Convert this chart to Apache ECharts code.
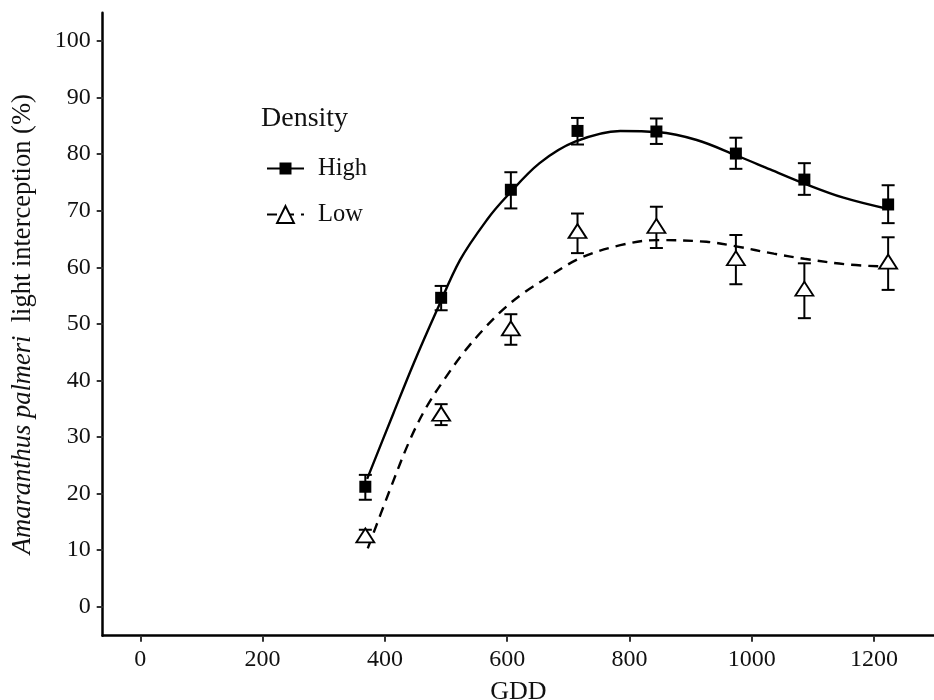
<!DOCTYPE html>
<html>
<head>
    <meta charset="utf-8">
    <title>Light interception</title>
    <script src="https://cdn.jsdelivr.net/npm/echarts@6/dist/echarts.min.js"></script>
    <style>
        html, body { margin: 0; padding: 0; background: #fff; }
        #main { width: 934px; height: 700px; }
    </style>
</head>
<body>
    <div id="main"></div>
    <script type="text/javascript">
    // observed means and error bar limits
    var gdd = [368, 492, 606, 715, 844, 974, 1086, 1223];
    var highMean = [21.2, 54.6, 73.7, 84.1, 84.0, 80.1, 75.5, 71.1];
    var highLow  = [18.9, 52.4, 70.4, 81.7, 81.8, 77.4, 72.8, 67.8];
    var highHigh = [23.3, 56.7, 76.8, 86.4, 86.3, 82.9, 78.4, 74.5];
    var lowMean = [12.6, 34.1, 49.2, 66.4, 67.3, 61.6, 56.2, 61.0];
    var lowLow  = [11.5, 32.1, 46.3, 62.5, 63.4, 57.0, 51.0, 56.0];
    var lowHigh = [13.6, 35.8, 51.7, 69.5, 70.7, 65.7, 60.7, 65.3];

    // fitted curves
    var highFitX = [371, 414, 447, 485, 523, 567, 599, 653, 711, 785, 845, 910, 974, 1030, 1086, 1150, 1223];
    var highFitY = [22.6, 34.2, 43.0, 52.4, 61.3, 68.4, 72.5, 78.4, 82.2, 84.1, 83.9, 82.5, 79.8, 77.3, 74.8, 72.3, 70.3];
    var lowFitX = [372, 408, 441, 468, 496, 528, 561, 594, 626, 660, 719, 785, 845, 926, 974, 1036, 1086, 1156, 1223];
    var lowFitY = [10.3, 20.6, 29.5, 35.3, 40.0, 44.8, 49.0, 52.6, 55.4, 57.8, 61.6, 63.9, 64.8, 64.5, 63.7, 62.4, 61.5, 60.5, 60.1];

    var xTicks = [0, 200, 400, 600, 800, 1000, 1200];
    var yTicks = [0, 10, 20, 30, 40, 50, 60, 70, 80, 90, 100];

    var font = 'Liberation Serif';

    function zip(a, b) {
        var out = [];
        for (var i = 0; i < a.length; i++) out.push([a[i], b[i]]);
        return out;
    }
    function zip3(a, b, c) {
        var out = [];
        for (var i = 0; i < a.length; i++) out.push([a[i], b[i], c[i]]);
        return out;
    }

    function renderErrorBar(params, api) {
        var x = api.value(0);
        var lo = api.coord([x, api.value(1)]);
        var hi = api.coord([x, api.value(2)]);
        var half = 6.5;
        var style = { stroke: '#000', lineWidth: 2 };
        return {
            type: 'group',
            children: [
                { type: 'line', shape: { x1: lo[0], y1: lo[1], x2: hi[0], y2: hi[1] }, style: style },
                { type: 'line', shape: { x1: lo[0] - half, y1: lo[1], x2: lo[0] + half, y2: lo[1] }, style: style },
                { type: 'line', shape: { x1: hi[0] - half, y1: hi[1], x2: hi[0] + half, y2: hi[1] }, style: style }
            ]
        };
    }

    var myChart = echarts.init(document.getElementById('main'));

    var option = {
        backgroundColor: '#fff',
        animation: false,
        title: {
            text: 'Density',
            left: 256,
            top: 100,
            textStyle: { fontFamily: font, fontSize: 28, fontWeight: 'normal', color: '#111' }
        },
        legend: [{
            data: ['High'],
            left: 261,
            top: 151,
            itemWidth: 37,
            itemHeight: 15,
            textStyle: { fontFamily: font, fontSize: 24.5, color: '#111', padding: [0, 0, 0, 9] }
        }, {
            data: ['Low'],
            left: 261,
            top: 197,
            itemWidth: 37,
            itemHeight: 21,
            textStyle: { fontFamily: font, fontSize: 24.5, color: '#111', padding: [0, 0, 0, 9] }
        }],
        grid: {
            left: 102.7,
            right: 0,
            top: 12.7,
            bottom: 64.3,
            containLabel: false,
            outerBoundsMode: 'none'
        },
        xAxis: {
            type: 'value',
            min: -61.5,
            max: 1298,
            name: 'GDD',
            nameLocation: 'middle',
            nameGap: 43,
            nameTextStyle: { fontFamily: font, fontSize: 26, color: '#111' },
            splitLine: { show: false },
            axisLine: { show: true, onZero: false, lineStyle: { color: '#000', width: 2.5 } },
            axisTick: { show: true, length: 6, customValues: xTicks, lineStyle: { color: '#333', width: 2 } },
            axisLabel: {
                customValues: xTicks, margin: 12.5, fontFamily: font, fontSize: 24, color: '#111',
                formatter: function (v) { return String(v); }
            }
        },
        yAxis: {
            type: 'value',
            min: -5.13,
            max: 105,
            name: '{i|Amaranthus palmeri}  light interception (%)',
            nameLocation: 'middle',
            nameGap: 66,
            nameTextStyle: {
                fontFamily: font, fontSize: 26.5, color: '#111',
                rich: { i: { fontFamily: font, fontSize: 26.5, fontStyle: 'italic', color: '#111' } }
            },
            splitLine: { show: false },
            axisLine: { show: true, onZero: false, lineStyle: { color: '#000', width: 2.5 } },
            axisTick: { show: true, length: 6, customValues: yTicks, lineStyle: { color: '#333', width: 2 } },
            axisLabel: {
                customValues: yTicks, margin: 12, fontFamily: font, fontSize: 24, color: '#111',
                formatter: function (v) { return String(v); }
            }
        },
        series: [{
            name: 'High',
            type: 'line',
            data: zip(highFitX, highFitY),
            smooth: 0.35,
            symbol: 'rect',
            showSymbol: false,
            itemStyle: { color: '#000' },
            lineStyle: { color: '#000', width: 2.4 },
            z: 3
        }, {
            name: 'Low',
            type: 'line',
            data: zip(lowFitX, lowFitY),
            smooth: 0.35,
            symbol: 'emptyTriangle',
            showSymbol: false,
            itemStyle: { color: '#000' },
            lineStyle: { color: '#000', width: 2.4, type: [10, 7] },
            z: 3
        }, {
            name: 'High',
            type: 'custom',
            renderItem: renderErrorBar,
            data: zip3(gdd, highLow, highHigh),
            z: 2
        }, {
            name: 'Low',
            type: 'custom',
            renderItem: renderErrorBar,
            data: zip3(gdd, lowLow, lowHigh),
            z: 2
        }, {
            name: 'High',
            type: 'scatter',
            data: zip(gdd, highMean),
            symbol: 'rect',
            symbolSize: 12,
            itemStyle: { color: '#000', opacity: 1 },
            z: 4
        }, {
            name: 'Low',
            type: 'scatter',
            data: zip(gdd, lowMean),
            symbol: 'triangle',
            symbolSize: [18, 14],
            itemStyle: { color: '#fff', borderColor: '#000', borderWidth: 1.8, opacity: 1 },
            z: 4
        }]
    };

    myChart.setOption(option);
    </script>
</body>
</html>
